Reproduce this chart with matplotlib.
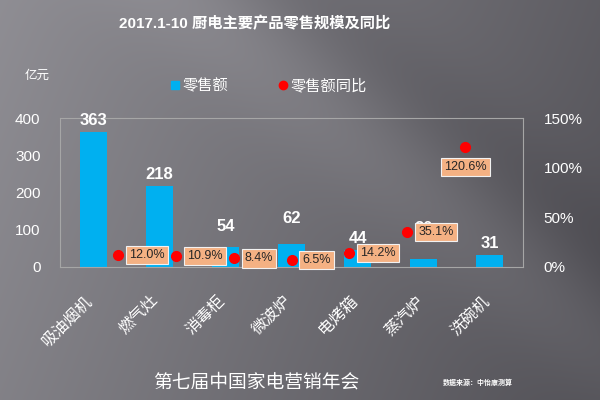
import numpy as np
import matplotlib
matplotlib.use('Agg')
import matplotlib.pyplot as plt
import matplotlib.transforms as mtransforms
from matplotlib.lines import Line2D

plt.rcParams['font.family'] = ['Liberation Sans', 'Noto Sans CJK SC', 'DejaVu Sans']

# Data
categories = ['吸油烟机', '燃气灶', '消毒柜', '微波炉', '电烤箱', '蒸汽炉', '洗碗机']
sales = [363, 218, 54, 62, 44, 20, 31]            # 亿元
yoy = [12.0, 10.9, 8.4, 6.5, 14.2, 35.1, 120.6]   # %
yoy_labels = ['12.0%', '10.9%', '8.4%', '6.5%', '14.2%', '35.1%', '120.6%']

W, H = 600, 400
fig = plt.figure(figsize=(6, 4), dpi=100)

# gradient background
bg = fig.add_axes([0, 0, 1, 1], zorder=-10)
yy, xx = np.mgrid[0:H, 0:W]
u, v = xx / W, yy / H
c = 0.56 - 0.19 * u - 0.05 * v
c += 0.04 * np.exp(-((yy - (0.83 * xx - 150)) / 70.0) ** 2)
c -= 0.03 * np.exp(-((yy - (0.83 * xx - 260)) / 60.0) ** 2)
img = np.dstack([c, c - 0.005, c + 0.018]).clip(0, 1)
bg.imshow(img, aspect='auto', extent=[0, 1, 0, 1])
bg.axis('off')

pos = [60 / W, 1 - 266.7 / H, 463 / W, 148.4 / H]
ax = fig.add_axes(pos)
ax.patch.set_alpha(0)
x = np.arange(len(categories))
bars = ax.bar(x, sales, width=0.41, color='#00b0f0', zorder=2)
ax.set_xlim(-0.5, len(categories) - 0.5)
ax.set_ylim(0, 400)
ax.set_yticks([0, 100, 200, 300, 400])
ax.tick_params(axis='y', length=0, colors='white', labelsize=11, pad=14)
ax.set_xticks(x)
ax.set_xticklabels(categories, rotation=45, ha='right', va='top',
                   rotation_mode='anchor', color='white', fontsize=11.5)
ax.tick_params(axis='x', length=0, pad=19)
shift = mtransforms.ScaledTranslation(-8 / 100, 0, fig.dpi_scale_trans)
for lbl in ax.get_xticklabels():
    lbl.set_transform(lbl.get_transform() + shift)
for s in ['top', 'bottom', 'right', 'left']:
    ax.spines[s].set_color('#a6a6a6')
    ax.spines[s].set_linewidth(0.8)

extra = [0, 0, 6, 10, 0, 14, 0]
for b, val, e in zip(bars, sales, extra):
    ax.annotate(str(val), (b.get_x() + b.get_width() / 2, b.get_height()),
                xytext=(0, 3 + e), textcoords='offset points',
                ha='center', va='bottom', color='white', fontsize=12,
                fontweight='bold', zorder=3)

# secondary axes for YoY dots
ax2 = fig.add_axes(pos, frameon=False, zorder=5)
ax2.patch.set_alpha(0)
ax2.plot(x, yoy, 'o', color='#ff0000', markersize=7, zorder=5)
ax2.set_xlim(-1, len(categories))
ax2.set_ylim(0, 150)
ax2.set_xticks([])
ax2.yaxis.tick_right()
ax2.set_yticks([0, 50, 100, 150])
ax2.set_yticklabels(['0%', '50%', '100%', '150%'])
ax2.tick_params(axis='y', length=0, colors='white', labelsize=11, pad=15)

for i, (val, lab) in enumerate(zip(yoy, yoy_labels)):
    if val > 100:
        kw = dict(xytext=(0, -14), ha='center', va='center')
    else:
        kw = dict(xytext=(8, 0), ha='left', va='center')
    ax2.annotate(lab, (i, val), textcoords='offset points', fontsize=9,
                 color='#262626', zorder=6,
                 bbox=dict(boxstyle='square,pad=0.25', fc='#f4b183',
                           ec='#f2f2f2', lw=0.8), **kw)

# texts
fig.text(255 / W, 1 - 24 / H, '2017.1-10 厨电主要产品零售规模及同比', ha='center',
         va='center', color='white', fontsize=11, fontweight='bold')
fig.text(25 / W, 1 - 76 / H, '亿元', ha='left', va='center', color='white', fontsize=9)

handles = [Line2D([], [], marker='s', ls='none', color='#00b0f0', markersize=6),
           Line2D([], [], marker='o', ls='none', color='#ff0000', markersize=6)]
leg = fig.legend(handles, ['零售额', '零售额同比'], loc='center',
                 bbox_to_anchor=(268 / W, 1 - 86 / H), ncol=2, frameon=False,
                 fontsize=11, handletextpad=0.1, columnspacing=3.2,
                 handlelength=0.8)
for t in leg.get_texts():
    t.set_color('white')

fig.text(256 / W, 1 - 382 / H, '第七届中国家电营销年会', ha='center', va='center',
         color='white', fontsize=13.5, family=['Noto Sans CJK SC'])
fig.text(513 / W, 1 - 382 / H, '数据来源：中怡康测算', ha='right', va='center',
         color='white', fontsize=5, fontweight='bold', family=['Noto Sans CJK SC'])

fig.savefig('out.png', dpi=100)
